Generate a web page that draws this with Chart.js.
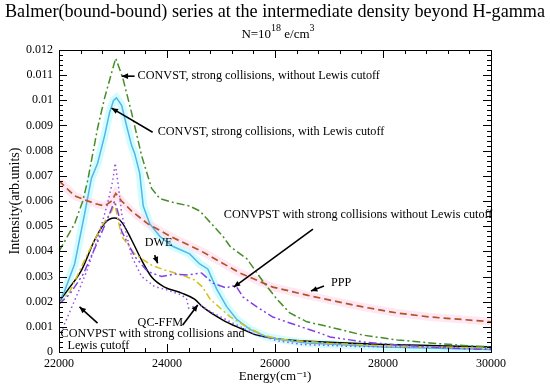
<!DOCTYPE html>
<html>
<head>
<meta charset="utf-8">
<script src="https://cdn.jsdelivr.net/npm/chart.js@4/dist/chart.umd.min.js"></script>
<style>
html,body{margin:0;padding:0;background:#fff;}
canvas{display:block;}
</style>
</head>
<body>
<canvas id="c" width="550" height="384"></canvas>
<script>
// ---- data ----
const xTicks = [22000, 24000, 26000, 28000, 30000];
const yTicks = [0, 0.001, 0.002, 0.003, 0.004, 0.005, 0.006, 0.007, 0.008, 0.009, 0.01, 0.011, 0.012];

// CONVST, strong collisions, without Lewis cutoff (green dash-dot)
const convstNoLewisX = [22000, 22290, 22440, 22530, 22715, 22845, 22975, 23050, 23180, 23345, 23530, 23715, 23865, 24105, 24420, 24610, 24735, 25035, 25165, 25480, 25780, 26035, 26275, 26590, 27000, 27630, 28260, 28870, 29485, 30000];
const convstNoLewisY = [0.0040, 0.0051, 0.0060, 0.0068, 0.0089, 0.0101, 0.0111, 0.01167, 0.0109, 0.0095, 0.0078, 0.0065, 0.0061, 0.00595, 0.0058, 0.0056, 0.0053, 0.0046, 0.0042, 0.0037, 0.0028, 0.0021, 0.00155, 0.0012, 0.0010, 0.00067, 0.00048, 0.00036, 0.00026, 0.0002];

// CONVST, strong collisions, with Lewis cutoff (cyan solid)
const convstLewisX = [22000, 22100, 22290, 22475, 22600, 22715, 22845, 22935, 23010, 23065, 23160, 23250, 23345, 23400, 23495, 23560, 23680, 23865, 24105, 24420, 24605, 24755, 24920, 25105, 25290, 25535, 25850, 26145, 26590, 27150, 28000, 29000, 30000];
const convstLewisY = [0.0020, 0.0024, 0.0035, 0.0055, 0.0069, 0.0075, 0.0086, 0.0095, 0.0100, 0.0101, 0.0098, 0.0090, 0.0082, 0.0079, 0.0071, 0.0058, 0.0051, 0.0046, 0.0042, 0.0039, 0.0035, 0.0033, 0.0025, 0.0018, 0.0013, 0.0009, 0.0006, 0.00048, 0.00036, 0.0003, 0.0002, 0.00015, 0.0001];

// PPP (brown dashed)
const pppX = [22000, 22290, 22660, 22845, 22975, 23050, 23160, 23345, 23640, 24085, 24640, 25350, 25960, 26590, 27020, 27630, 28260, 28870, 29485, 30000];
const pppY = [0.0068, 0.0062, 0.0059, 0.0058, 0.0060, 0.0063, 0.0060, 0.0056, 0.0051, 0.00457, 0.0040, 0.00314, 0.00258, 0.00226, 0.00206, 0.00179, 0.00155, 0.00139, 0.00129, 0.0012];

// QC-FFM (black solid)
const qcffmX = [22000, 22160, 22420, 22660, 22845, 23030, 23160, 23345, 23530, 23715, 23955, 24275, 24510, 24660, 25035, 25350, 25665, 26145, 26890, 28000, 29000, 30000];
const qcffmY = [0.0020, 0.00246, 0.00326, 0.00445, 0.00512, 0.00532, 0.00516, 0.00445, 0.00365, 0.00298, 0.00258, 0.00234, 0.0021, 0.00179, 0.00127, 0.00095, 0.00067, 0.0005, 0.0004, 0.0003, 0.00025, 0.0002];

// DWE (yellow dash-dot)
const dweX = [22000, 22200, 22530, 22790, 22975, 23030, 23100, 23160, 23400, 23715, 23955, 24275, 24510, 24650, 24800, 25165, 25480, 25780, 26100, 27000, 28000, 30000];
const dweY = [0.0019, 0.0024, 0.0039, 0.0050, 0.0056, 0.0059, 0.0052, 0.0046, 0.0039, 0.00345, 0.00326, 0.00306, 0.00286, 0.0026, 0.0021, 0.0014, 0.0010, 0.00067, 0.0005, 0.00035, 0.00025, 0.00015];

// CONVPST with strong collisions and Lewis cutoff (purple dotted)
const convpstLewisX = [22000, 22100, 22340, 22530, 22715, 22900, 22995, 23040, 23100, 23160, 23345, 23530, 23770, 24010, 24275, 24365, 24400, 24480, 24605, 24850, 25220, 25590, 26035, 26500, 27500, 28500, 30000];
const convpstLewisY = [0.0006, 0.0011, 0.0023, 0.0033, 0.0045, 0.0059, 0.0068, 0.0075, 0.0066, 0.0055, 0.0038, 0.0030, 0.0026, 0.00246, 0.00226, 0.0021, 0.00175, 0.0018, 0.00187, 0.00155, 0.00115, 0.00075, 0.00045, 0.0003, 0.00022, 0.0002, 0.00015];

// CONVPST with strong collisions without Lewis cutoff (purple dash-dot-dot)
const convpstNoLewisX = [22000, 22200, 22450, 22700, 22900, 23030, 23100, 23160, 23400, 23640, 23900, 24140, 24385, 24640, 24850, 25105, 25200, 25290, 25410, 25665, 25960, 26275, 26780, 27020, 27630, 28260, 28870, 29485, 30000];
const convpstNoLewisY = [0.0019, 0.0023, 0.0031, 0.0043, 0.0053, 0.0060, 0.0055, 0.0048, 0.0038, 0.0032, 0.0030, 0.0031, 0.00306, 0.00314, 0.00274, 0.00254, 0.00264, 0.00258, 0.00218, 0.00179, 0.00139, 0.00115, 0.00079, 0.0006, 0.0004, 0.00028, 0.0002, 0.00013, 0.0001];

const pts = (xs, ys) => xs.map((x, i) => ({x: x, y: ys[i]}));

const SERIF = '"Liberation Serif", "DejaVu Serif", serif';

const titleText = 'Balmer(bound-bound) series at the intermediate density beyond H-gamma';
// subtitle pieces: [text, superscript?]
const subtitleParts = [['N=10', false], ['18', true], [' e/cm', false], ['3', true]];

// annotations: text anchor and arrow (tail -> head) in data coordinates
const notes = [
  {lines: ['CONVST, strong collisions, without Lewis cutoff'], at: [23456, 0.01096], tail: [23400, 0.01096], head: [23160, 0.01096]},
  {lines: ['CONVST, strong collisions, with Lewis cutoff'], at: [23827, 0.00873], tail: [23734, 0.00873], head: [22974, 0.00969]},
  {lines: ['CONVPST with strong collisions without Lewis cutoff'], at: [25052, 0.00544], tail: [26703, 0.00488], head: [25237, 0.00258]},
  {lines: ['PPP'], at: [27036, 0.00274], tail: [26907, 0.00262], head: [26666, 0.00242]},
  {lines: ['DWE'], at: [23586, 0.00433], tail: [23771, 0.00385], head: [23827, 0.00353]},
  {lines: ['QC-FFM'], at: [23456, 0.00115], tail: [24291, 0.00107], head: [24569, 0.00187]},
  {lines: ['CONVPST with strong collisions and', 'Lewis cutoff'], at: [22028, 0.00071], indent: [0, 7], tail: [22714, 0.00115], head: [22380, 0.00179]}
];

const framePlugin = {
  id: 'frame',
  afterDraw(chart) {
    const ctx = chart.ctx, a = chart.chartArea, xs = chart.scales.x, ys = chart.scales.y;
    ctx.save();
    ctx.strokeStyle = '#000';
    ctx.lineWidth = 1;
    ctx.strokeRect(Math.round(a.left) + 0.5, Math.round(a.top) + 0.5, Math.round(a.right - a.left), Math.round(a.bottom - a.top));
    ctx.beginPath();
    for (let i = 0; i <= 20; i++) {
      const v = 22000 + i * 400;
      const px = Math.round(xs.getPixelForValue(v)) + 0.5;
      const len = (i % 5 === 0) ? 8 : 4;
      ctx.moveTo(px, a.bottom); ctx.lineTo(px, a.bottom - len);
      ctx.moveTo(px, a.top); ctx.lineTo(px, a.top + len);
    }
    for (let i = 0; i <= 60; i++) {
      const v = i * 0.0002;
      const py = Math.round(ys.getPixelForValue(v)) + 0.5;
      const len = (i % 5 === 0) ? 8 : 4;
      ctx.moveTo(a.left, py); ctx.lineTo(a.left + len, py);
      ctx.moveTo(a.right, py); ctx.lineTo(a.right - len, py);
    }
    ctx.stroke();

    ctx.fillStyle = '#000';
    ctx.textBaseline = 'alphabetic';

    // main title, sized to span the reference width
    ctx.font = '20px ' + SERIF;
    const w20 = ctx.measureText(titleText).width;
    const tSize = Math.min(22, 20 * 540 / w20);
    ctx.font = tSize.toFixed(2) + 'px ' + SERIF;
    ctx.textAlign = 'center';
    ctx.fillText(titleText, 275, 17);

    // subtitle with superscripts
    ctx.textAlign = 'left';
    const fN = '13px ' + SERIF, fS = '10px ' + SERIF;
    let total = 0;
    subtitleParts.forEach(p => { ctx.font = p[1] ? fS : fN; total += ctx.measureText(p[0]).width; });
    let sx = 278 - total / 2;
    subtitleParts.forEach(p => {
      ctx.font = p[1] ? fS : fN;
      ctx.fillText(p[0], sx, p[1] ? 31 : 37.5);
      sx += ctx.measureText(p[0]).width;
    });

    // annotations
    ctx.font = '12.2px ' + SERIF;
    ctx.textBaseline = 'middle';
    notes.forEach(n => {
      const tx = xs.getPixelForValue(n.at[0]), ty = ys.getPixelForValue(n.at[1]);
      n.lines.forEach((t, k) => {
        const ind = n.indent ? n.indent[k] : 0;
        ctx.fillText(t, tx + ind, ty + k * 12);
      });
      const x1 = xs.getPixelForValue(n.tail[0]), y1 = ys.getPixelForValue(n.tail[1]);
      const x2 = xs.getPixelForValue(n.head[0]), y2 = ys.getPixelForValue(n.head[1]);
      ctx.beginPath();
      ctx.lineWidth = 1.6;
      ctx.moveTo(x1, y1); ctx.lineTo(x2, y2);
      ctx.stroke();
      const ang = Math.atan2(y2 - y1, x2 - x1), L = 7, W = 0.42;
      ctx.beginPath();
      ctx.moveTo(x2, y2);
      ctx.lineTo(x2 - L * Math.cos(ang - W), y2 - L * Math.sin(ang - W));
      ctx.lineTo(x2 - L * Math.cos(ang + W), y2 - L * Math.sin(ang + W));
      ctx.closePath();
      ctx.fill();
    });
    ctx.restore();
  }
};

const line = (data, color, dash, extra) => Object.assign({
  data: data, borderColor: color, borderWidth: 1.5, borderDash: dash, pointRadius: 0,
  tension: 0, fill: false, order: 1
}, extra || {});

new Chart(document.getElementById('c'), {
  type: 'line',
  data: {
    datasets: [
      line(pts(pppX, pppY), 'rgba(255,222,238,0.7)', [], {borderWidth: 8, order: 10}),
      line(pts(convstLewisX, convstLewisY), 'rgba(195,252,255,0.75)', [], {borderWidth: 8, order: 10}),
      line(pts(convstNoLewisX, convstNoLewisY), '#468c28', [8, 3, 2, 3]),
      line(pts(pppX, pppY), '#b0542a', [7, 4], {borderWidth: 1.7}),
      line(pts(convpstNoLewisX, convpstNoLewisY), '#8040e6', [8, 3, 2, 3, 2, 3]),
      line(pts(dweX, dweY), '#d4c020', [7, 3, 2, 3]),
      line(pts(convpstLewisX, convpstLewisY), '#9650e6', [1.5, 3]),
      line(pts(convstLewisX, convstLewisY), '#55b4e8', []),
      line(pts(qcffmX, qcffmY), '#000000', [], {cubicInterpolationMode: 'monotone'})
    ]
  },
  options: {
    responsive: false,
    animation: false,
    devicePixelRatio: 1,
    layout: {padding: {left: 0, right: 59, top: 50, bottom: 0}},
    plugins: {
      legend: {display: false},
      tooltip: {enabled: false},
      title: {display: false},
      subtitle: {display: false}
    },
    scales: {
      x: {
        type: 'linear', min: 22000, max: 30000,
        afterBuildTicks: s => { s.ticks = xTicks.map(v => ({value: v})); },
        ticks: {color: '#000', font: {family: SERIF, size: 12}, padding: 5, maxRotation: 0, callback: v => String(v)},
        grid: {display: false, drawTicks: false},
        border: {display: false},
        title: {display: true, text: 'Energy(cm⁻¹)', color: '#000', font: {family: SERIF, size: 13}, padding: {top: 0, bottom: 0}},
        afterFit: s => { s.height = 32; }
      },
      y: {
        type: 'linear', min: 0, max: 0.012,
        afterBuildTicks: s => { s.ticks = yTicks.map(v => ({value: v})); },
        ticks: {color: '#000', font: {family: SERIF, size: 12}, padding: 6, callback: v => String(Math.round(v * 1000) / 1000)},
        grid: {display: false, drawTicks: false},
        border: {display: false},
        title: {display: true, text: 'Intensity(arb.units)', color: '#000', font: {family: SERIF, size: 14}, padding: {top: 7, bottom: 2}},
        afterFit: s => { s.width = 59; }
      }
    }
  },
  plugins: [framePlugin]
});
</script>
</body>
</html>
